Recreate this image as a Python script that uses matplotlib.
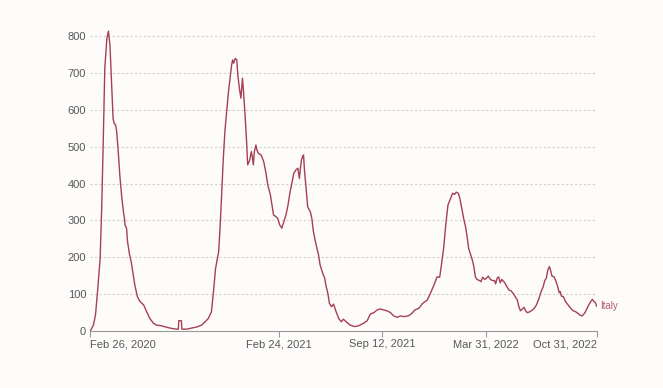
import datetime as dt
import matplotlib
matplotlib.use('Agg')
import matplotlib.pyplot as plt
import matplotlib.dates as mdates

# daily deaths (7-day average), Italy
start = dt.date(2020, 2, 26)
days = [0, 6, 10, 14, 19, 22, 25, 28, 32, 35, 38, 41, 44, 46, 49, 51, 54, 57, 61, 64,
        66, 67, 70, 72, 76, 79, 82, 86, 91, 96, 103, 109, 115, 122, 128, 138, 148, 157, 167, 170,
        171, 176, 177, 186, 196, 206, 215, 222, 228, 234, 238, 242, 248, 251, 254, 257, 260, 264, 267, 270,
        273, 275, 277, 280, 283, 285, 288, 291, 294, 296, 299, 302, 304, 308, 311, 313, 315, 317, 320, 322,
        325, 330, 335, 339, 343, 348, 351, 354, 359, 362, 366, 370, 374, 378, 382, 386, 390, 393, 397, 401,
        404, 406, 408, 410, 412, 414, 417, 420, 425, 428, 431, 435, 438, 441, 444, 449, 453, 455, 459, 462,
        466, 470, 475, 480, 485, 489, 496, 502, 511, 518, 528, 535, 541, 548, 554, 560, 567, 573, 580, 586,
        593, 599, 606, 614, 620, 627, 635, 642, 651, 657, 664, 670, 675, 678, 683, 687, 691, 696, 700, 704,
        707, 711, 714, 718, 722, 725, 728, 731, 734, 738, 741, 744, 747, 752, 755, 758, 762, 765, 769, 773,
        777, 781, 783, 786, 789, 792, 795, 799, 802, 805, 809, 813, 817, 822, 825, 828, 831, 834, 838, 841,
        844, 849, 854, 858, 862, 867, 871, 875, 878, 881, 884, 887, 889, 892, 896, 900, 903, 906, 908, 910,
        914, 918, 923, 928, 933, 938, 942, 946, 950, 955, 959, 963, 967, 970, 973, 976, 978]
deaths = [0, 16, 43, 107, 197, 333, 514, 713, 794, 814, 776, 677, 577, 564, 559, 541, 487, 423, 360, 324,
          306, 288, 279, 242, 206, 188, 161, 125, 93, 80, 71, 52, 34, 21, 16, 14, 10, 7, 5, 5,
          28, 28, 5, 5, 8, 11, 16, 25, 34, 52, 107, 170, 215, 288, 378, 469, 541, 604, 650, 686,
          722, 736, 727, 740, 736, 695, 659, 632, 686, 650, 586, 514, 451, 464, 487, 473, 451, 487, 505, 491,
          482, 478, 460, 432, 396, 369, 342, 315, 310, 306, 288, 279, 297, 315, 342, 378, 405, 428, 437, 442,
          414, 443, 464, 473, 478, 432, 387, 337, 324, 306, 270, 242, 224, 206, 179, 157, 143, 125, 102, 75,
          66, 73, 52, 34, 25, 32, 23, 16, 12, 14, 21, 28, 46, 50, 57, 60, 57, 55, 50, 41,
          37, 41, 39, 41, 46, 57, 62, 75, 84, 102, 125, 147, 146, 175, 229, 292, 342, 360, 374, 371,
          377, 374, 360, 330, 301, 283, 256, 224, 211, 193, 175, 147, 140, 137, 134, 146, 140, 143, 149, 140,
          137, 137, 128, 143, 147, 131, 140, 134, 128, 120, 111, 109, 102, 91, 84, 66, 55, 59, 64, 55,
          50, 52, 57, 62, 71, 89, 107, 120, 137, 143, 166, 175, 166, 149, 147, 134, 120, 104, 107, 95,
          93, 80, 71, 62, 55, 52, 48, 43, 41, 48, 59, 71, 80, 86, 80, 77, 68]
tick_dates = [dt.date(2020, 2, 26), dt.date(2021, 2, 24), dt.date(2021, 9, 12),
              dt.date(2022, 3, 31), dt.date(2022, 10, 31)]
tick_labels = ['Feb 26, 2020', 'Feb 24, 2021', 'Sep 12, 2021', 'Mar 31, 2022', 'Oct 31, 2022']
y_ticks = [0, 100, 200, 300, 400, 500, 600, 700, 800]
country = 'Italy'

dates = [start + dt.timedelta(days=d) for d in days]

plt.rcParams['font.family'] = ['Liberation Sans', 'DejaVu Sans']
bg = '#fdfcfa'
line_col = '#a63f53'
txt_col = '#585858'

fig = plt.figure(figsize=(6.63, 3.88), dpi=100, facecolor=bg)
ax = fig.add_axes([0.1362, 0.1469, 0.7635, 0.788], facecolor=bg)

ax.plot(dates, deaths, color=line_col, lw=1.0, solid_joinstyle='round')
ax.annotate(country, xy=(dates[-1], deaths[-1]), xytext=(2.5, 0), textcoords='offset points',
            color='#b45a6c', fontsize=7, va='center', ha='left', annotation_clip=False)

ax.set_xlim(start, dates[-1])
ax.set_ylim(0, 830)

# grid (no line at zero, the axis line is there)
for y in y_ticks[1:]:
    ax.axhline(y, color='#d0d0d0', lw=0.8, ls=(0, (2, 2)), zorder=0)

ax.set_yticks(y_ticks)
ax.set_yticklabels([str(v) for v in y_ticks])
ax.set_xticks(tick_dates)
ax.set_xticklabels(tick_labels)
for i, lab in enumerate(ax.get_xticklabels()):
    if i == 0:
        lab.set_ha('left')
    elif i == len(tick_labels) - 1:
        lab.set_ha('right')

ax.tick_params(axis='y', length=0, pad=3, labelsize=8, labelcolor=txt_col)
ax.tick_params(axis='x', length=4, width=0.8, color='#999999', pad=2, labelsize=8, labelcolor=txt_col)

for s in ['top', 'right', 'left']:
    ax.spines[s].set_visible(False)
ax.spines['bottom'].set_color('#999999')
ax.spines['bottom'].set_linewidth(0.8)

plt.savefig('out.png', dpi=100, facecolor=bg)
